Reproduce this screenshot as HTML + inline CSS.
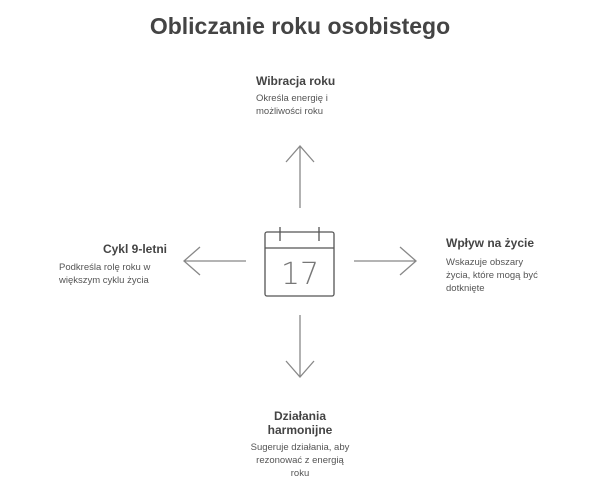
<!DOCTYPE html>
<html><head><meta charset="utf-8"><style>
body{margin:0;width:600px;height:502px;background:#fff;position:relative;overflow:hidden;font-family:"Liberation Sans",sans-serif;}
.a{position:absolute;white-space:nowrap;}
.t{font-weight:bold;font-size:12px;color:#444;line-height:14px;}
.d{font-size:9.5px;color:#555;line-height:13px;}
</style></head><body>
<div class="a" style="left:0;width:600px;top:13px;text-align:center;font-size:23px;font-weight:bold;color:#444;">Obliczanie roku osobistego</div>

<div class="a t" style="left:256px;top:74px;">Wibracja roku</div>
<div class="a d" style="left:256px;top:92px;">Określa energię i<br>możliwości roku</div>

<div class="a t" style="left:60px;width:107px;text-align:right;top:242px;">Cykl 9-letni</div>
<div class="a d" style="left:59px;top:261px;">Podkreśla rolę roku w<br>większym cyklu życia</div>

<div class="a t" style="left:446px;top:236px;">Wpływ na życie</div>
<div class="a d" style="left:446px;top:256px;">Wskazuje obszary<br>życia, które mogą być<br>dotknięte</div>

<div class="a t" style="left:200px;width:200px;text-align:center;top:409px;">Działania<br>harmonijne</div>
<div class="a d" style="left:200px;width:200px;text-align:center;top:441px;">Sugeruje działania, aby<br>rezonować z energią<br>roku</div>

<svg class="a" style="left:0;top:0" width="600" height="502">
<g stroke="#888" stroke-width="1.3" fill="none">
<path d="M300 208V146M286 162L300 146L314 162"/>
<path d="M300 315V377M286 361L300 377L314 361"/>
<path d="M246 261H184M200 247L184 261L200 275"/>
<path d="M354 261H416M400 247L416 261L400 275"/>
</g>
<g stroke="#555" stroke-width="1.3" fill="none">
<rect x="265" y="232" width="69" height="64" rx="2"/>
<path d="M265 248H334M280 227V241M319 227V241"/>
</g>
<text x="300" y="284" text-anchor="middle" font-family="DejaVu Sans,sans-serif" font-size="30" font-weight="200" fill="#777" textLength="38" lengthAdjust="spacingAndGlyphs">17</text>
</svg>
</body></html>
